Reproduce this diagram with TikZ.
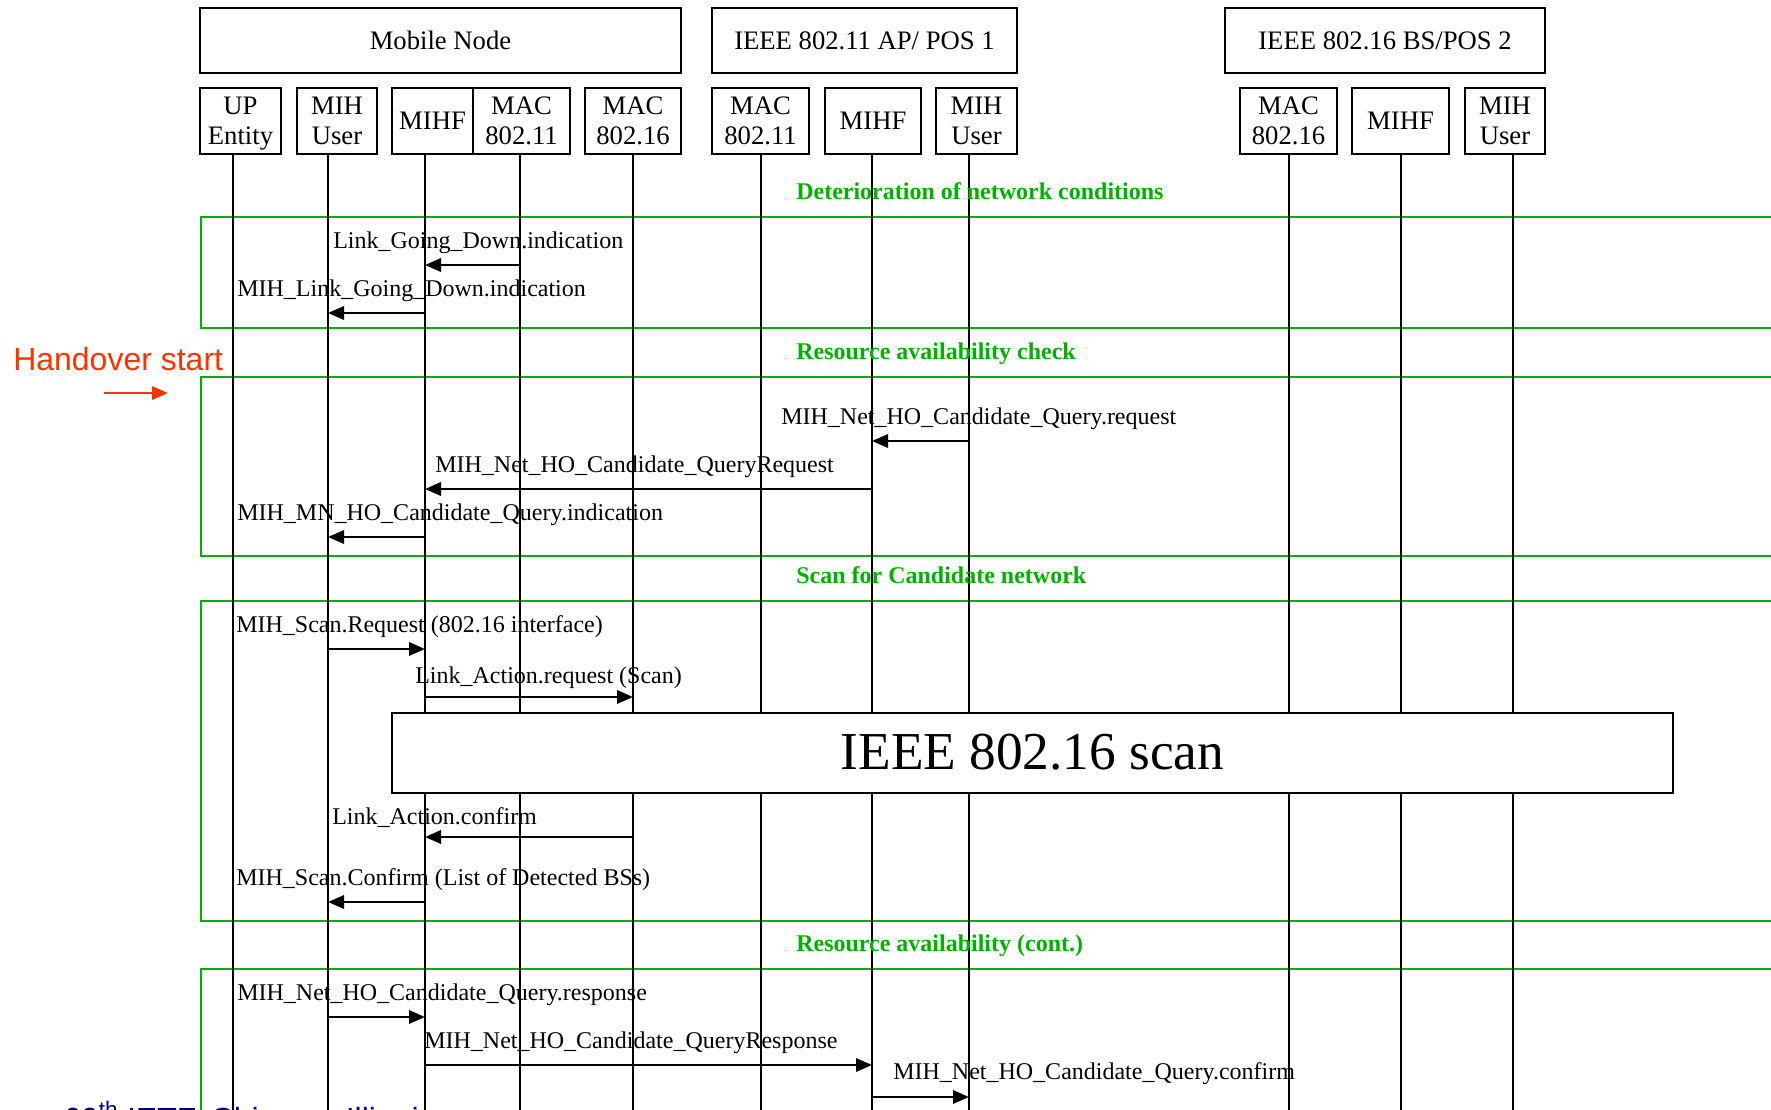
\documentclass[tikz,border=0pt]{standalone}
\usepackage{fontspec}
\setmainfont{Liberation Serif}
\newfontfamily\arialfont{Liberation Sans}
\usetikzlibrary{arrows.meta}
\definecolor{grn}{RGB}{0,175,0}
\definecolor{hored}{RGB}{255,51,0}
\definecolor{navyblue}{RGB}{0,0,128}
\tikzset{
  box/.style={draw=black, line width=1.5pt, inner sep=0pt, align=center,
    font=\fontsize{20}{22.5}\selectfont},
  life/.style={line width=1.3pt},
  msg/.style={line width=1.9pt, -{Triangle[length=12pt,width=10pt]}},
  mlabel/.style={anchor=base west, inner sep=0pt, font=\fontsize{18}{20}\selectfont},
  phase/.style={draw=grn, line width=2pt},
  phlabel/.style={anchor=base west, inner sep=0pt, text=grn,
    font=\fontsize{18}{20}\selectfont\bfseries},
}
\begin{document}
\begin{tikzpicture}[x=0.75pt,y=-0.75pt]
\useasboundingbox (0,0) rectangle (1771,1110);
\clip (0,0) rectangle (1771,1110);

% phase frames (open to the right)
\draw[phase] (201,217) rectangle (1800,328);
\draw[phase] (201,377) rectangle (1800,556);
\draw[phase] (201,601) rectangle (1800,921);
\draw[phase] (201,969) rectangle (1800,1200);

% footer (mostly cut off by the lower edge)
\node[anchor=base west, inner sep=0pt, text=navyblue,
  font=\arialfont\fontsize{24}{28}\selectfont] (foot) at (63,1130)
  {69\textsuperscript{th} IETF, Chicago, Illinois};

% header boxes
\node[box, minimum width=360.75pt, minimum height=48.4pt] (mn) at (440.5,40.75) {Mobile Node};
\node[box, minimum width=228.75pt, minimum height=48.4pt] (ap) at (864.5,40.75) {IEEE 802.11 AP/ POS 1};
\node[box, minimum width=240pt, minimum height=48.4pt] (bs) at (1385,40.75) {IEEE 802.16 BS/POS 2};

\node[box, minimum width=60.75pt, minimum height=49.5pt] (up) at (240.5,121) {UP\\\raisebox{0pt}[\height][0pt]{Entity}};
\node[box, minimum width=60pt, minimum height=49.5pt] (mnuser) at (337,121) {MIH\\User};
\node[box, minimum width=60.75pt, minimum height=49.5pt] (mnmihf) at (432.5,121) {MIHF};
\node[box, minimum width=72.75pt, minimum height=49.5pt] (mnmac11) at (521.5,121) {MAC\\802.11};
\node[box, minimum width=72pt, minimum height=49.5pt] (mnmac16) at (633,121) {MAC\\802.16};
\node[box, minimum width=72.75pt, minimum height=49.5pt] (apmac) at (760.5,121) {MAC\\802.11};
\node[box, minimum width=72pt, minimum height=49.5pt] (apmihf) at (873,121) {MIHF};
\node[box, minimum width=60.75pt, minimum height=49.5pt] (apuser) at (976.5,121) {MIH\\User};
\node[box, minimum width=72.75pt, minimum height=49.5pt] (bsmac) at (1288.5,121) {MAC\\802.16};
\node[box, minimum width=72.75pt, minimum height=49.5pt] (bsmihf) at (1400.5,121) {MIHF};
\node[box, minimum width=60pt, minimum height=49.5pt] (bsuser) at (1505,121) {MIH\\User};

% lifelines
\coordinate (Lup) at (233,154);
\coordinate (Lmnuser) at (328,154);
\coordinate (Lmihf) at (425,154);
\coordinate (Lmac11) at (520,154);
\coordinate (Lmac16) at (633,154);
\coordinate (Lapmac) at (761,154);
\coordinate (Lapmihf) at (872,154);
\coordinate (Lapuser) at (969,154);
\coordinate (Lbsmac) at (1289,154);
\coordinate (Lbsmihf) at (1401,154);
\coordinate (Lbsuser) at (1513,154);
\foreach \L in {Lup,Lmnuser,Lmihf,Lmac11,Lmac16,Lapmac,Lapmihf,Lapuser,Lbsmac,Lbsmihf,Lbsuser}
  \draw[life] (\L) -- (\L |- 0,1115);

% scan box
\node[draw, fill=white, line width=1.5pt, minimum width=960.75pt, minimum height=60pt,
  inner sep=0pt, font=\fontsize{40}{44}\selectfont] (scan) at (1032.5,752.5) {IEEE 802.16 scan};

% phase labels
\node[phlabel] (g1) at (796,199) {Deterioration of network conditions};
\node[phlabel] (g2) at (796,359) {Resource availability check};
\node[phlabel] (g3) at (796,583) {Scan for Candidate network};
\node[phlabel] (g4) at (796,951) {Resource availability (cont.)};

% messages
\draw[msg] (Lmac11 |- 0,265) -- (Lmihf |- 0,265);
\node[mlabel] (m1) at (333,248) {Link\_Going\_Down.indication};
\draw[msg] (Lmihf |- 0,313) -- (Lmnuser |- 0,313);
\node[mlabel] (m2) at (237,296) {MIH\_Link\_Going\_Down.indication};

\draw[msg] (Lapuser |- 0,441) -- (Lapmihf |- 0,441);
\node[mlabel] (m3) at (781,424) {MIH\_Net\_HO\_Candidate\_Query.request};
\draw[msg] (Lapmihf |- 0,489) -- (Lmihf |- 0,489);
\node[mlabel] (m4) at (435,472) {MIH\_Net\_HO\_Candidate\_QueryRequest};
\draw[msg] (Lmihf |- 0,537) -- (Lmnuser |- 0,537);
\node[mlabel] (m5) at (237,520) {MIH\_MN\_HO\_Candidate\_Query.indication};

\draw[msg] (Lmnuser |- 0,649) -- (Lmihf |- 0,649);
\node[mlabel] (m6) at (236,632) {MIH\_Scan.Request (802.16 interface)};
\draw[msg] (Lmihf |- 0,697) -- (Lmac16 |- 0,697);
\node[mlabel] (m7) at (415,683) {Link\_Action.request (Scan)};
\draw[msg] (Lmac16 |- 0,837) -- (Lmihf |- 0,837);
\node[mlabel] (m8) at (332,824) {Link\_Action.confirm};
\draw[msg] (Lmihf |- 0,902) -- (Lmnuser |- 0,902);
\node[mlabel] (m9) at (236,885) {MIH\_Scan.Confirm (List of Detected BSs)};

\draw[msg] (Lmnuser |- 0,1017) -- (Lmihf |- 0,1017);
\node[mlabel] (m10) at (237,1000) {MIH\_Net\_HO\_Candidate\_Query.response};
\draw[msg] (Lmihf |- 0,1065) -- (Lapmihf |- 0,1065);
\node[mlabel] (m11) at (424,1048) {MIH\_Net\_HO\_Candidate\_QueryResponse};
\draw[msg] (Lapmihf |- 0,1097) -- (Lapuser |- 0,1097);
\node[mlabel] (m12) at (893,1079) {MIH\_Net\_HO\_Candidate\_Query.confirm};

% handover start
\node[anchor=base west, inner sep=0pt, text=hored,
  font=\arialfont\fontsize{24}{28}\selectfont] (ho) at (13,370) {Handover start};
\coordinate (hoa) at (104,393);
\coordinate (hob) at (168,393);
\draw[hored, line width=1.5pt, -{Triangle[length=12pt,width=10pt]}] (hoa) -- (hob);
\end{tikzpicture}
\end{document}
